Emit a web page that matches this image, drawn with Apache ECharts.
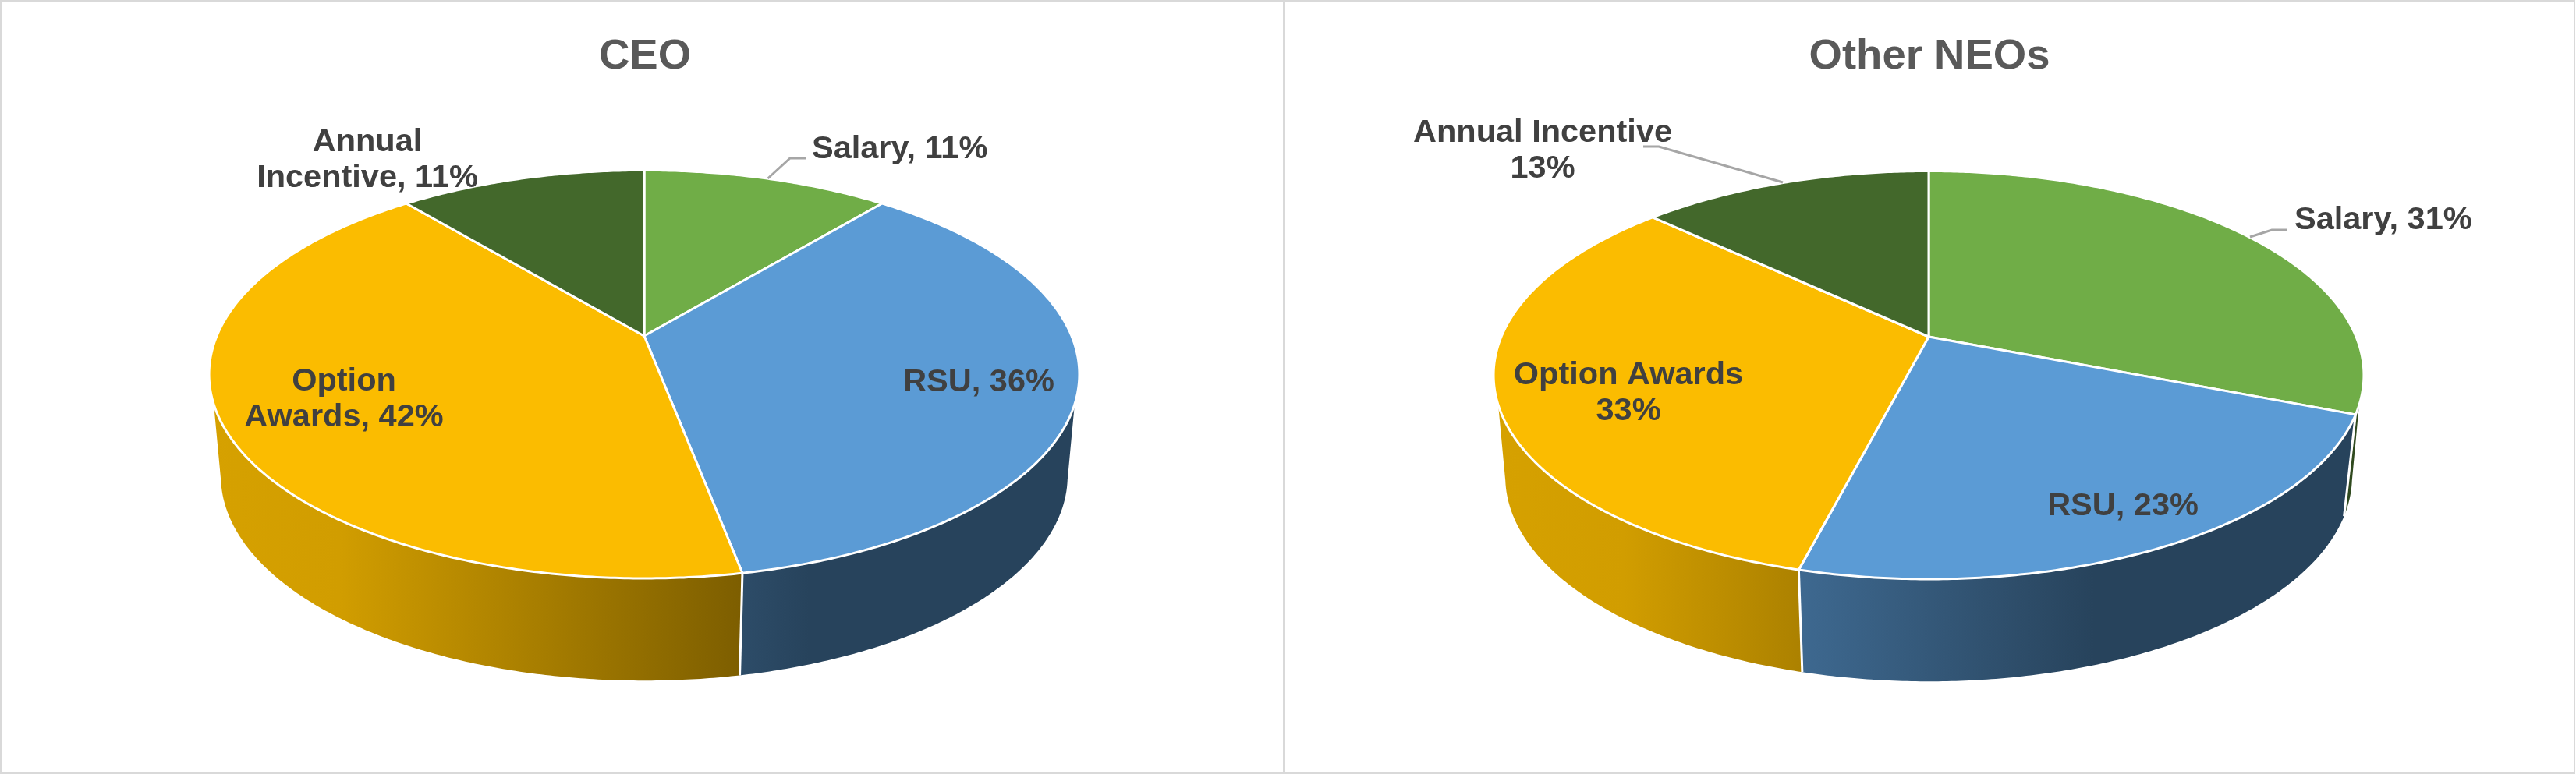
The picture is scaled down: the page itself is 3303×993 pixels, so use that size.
<!DOCTYPE html>
<html>
<head>
<meta charset="utf-8">
<style>html,body{margin:0;padding:0;background:#fff}#c{width:3303px;height:993px}</style>
<script src="https://cdn.jsdelivr.net/npm/echarts@6/dist/echarts.min.js"></script>
</head>
<body>
<div id="c"></div>
<script>
// ---- data ----
var categories = ['Salary', 'RSU', 'Option Awards', 'Annual Incentive'];
var ceoValues = [11, 36, 42, 11];
var neoValues = [31, 23, 33, 13];
var ceoLabels = ['Salary, 11%', 'RSU, 36%', 'Option\nAwards, 42%', 'Annual\nIncentive, 11%'];
var neoLabels = ['Salary, 31%', 'RSU, 23%', 'Option Awards\n33%', 'Annual Incentive\n13%'];
var titles = ['CEO', 'Other NEOs'];

// ---- styling and layout ----
var FONT = '"Liberation Sans", Arial, sans-serif';
var topColors = ['#70AD47', '#5B9BD5', '#FBBC00', '#43682B'];
var wallBases = [[112,173,71], [91,155,213], [255,192,0], [67,104,43]];
var k = 0.188, A = 548, B = 252.5, wallScaleX = 0.973, wallScaleY = 1.004, wallDrop = 130;
var topTangent = [109, 251], wallTangent = [102, 258];
var pies = [
  {cx: 826, cy: 431, titleX: 822, labels: [
    {x: 1041, y: 192, align: 'left'}, {x: 1255, y: 491, align: 'center'},
    {x: 441, y: 513, align: 'center'}, {x: 471, y: 206, align: 'center'}],
   leaders: [[[984.5,229],[1013,203],[1034,203]]]},
  {cx: 2473, cy: 432, titleX: 2469, labels: [
    {x: 2942, y: 283, align: 'left'}, {x: 2722, y: 650, align: 'center'},
    {x: 2088, y: 505, align: 'center'}, {x: 1978, y: 194, align: 'center'}],
   leaders: [[[2885,304],[2913,295],[2933,295]], [[2286,234],[2127,188],[2107,188]]]}
];

function project(p, deg, wall) {
  var a = deg * Math.PI / 180, u = Math.sin(a), v = -Math.cos(a), d = 1 - k * v;
  var X = A * u / d, Y = B * v / d;
  return wall ? [p.cx + wallScaleX * X, p.cy + wallDrop + wallScaleY * Y] : [p.cx + X, p.cy + Y];
}
function arc(p, from, to, wall) {
  var pts = [], n = Math.max(2, Math.ceil((to - from) * 2));
  for (var i = 0; i <= n; i++) pts.push(project(p, from + (to - from) * i / n, wall));
  return pts;
}
function startAngle(values, idx) {
  var s = 0;
  for (var i = 0; i < idx; i++) s += values[i];
  return s / 100 * 360;
}
function wallFill(p, base) {
  var ramp = [[0, 0.84], [0.15, 0.82], [0.612, 0.49], [0.69, 0.43], [1, 0.43]];
  return new echarts.graphic.LinearGradient(p.cx - 558, 0, p.cx + 558, 0, ramp.map(function (r) {
    return {offset: r[0], color: 'rgb(' + base.map(function (c) { return Math.round(c * r[1]); }).join(',') + ')'};
  }), true);
}
function wallSeries(values, pieIndex) {
  var p = pies[pieIndex];
  return {
    type: 'custom', coordinateSystem: 'none', z: 1, silent: true,
    data: values.map(function (v) { return [v]; }),
    renderItem: function (params, api) {
      var i = params.dataIndex, s = startAngle(values, i), e = s + api.value(0) / 100 * 360;
      var t0 = Math.max(s, topTangent[0]), t1 = Math.min(e, topTangent[1]);
      var w0 = Math.max(s, wallTangent[0]), w1 = Math.min(e, wallTangent[1]);
      if (t0 >= t1 || w0 >= w1) return {type: 'group', children: []};
      var kids = [{
        type: 'polygon',
        shape: {points: arc(p, t0, t1, false).concat(arc(p, w0, w1, true).reverse())},
        style: {fill: wallFill(p, wallBases[i])}
      }];
      if (e > topTangent[0] && e < topTangent[1]) {
        kids.push({type: 'line', z2: 5,
          shape: {x1: project(p, e, false)[0], y1: project(p, e, false)[1], x2: project(p, e, true)[0], y2: project(p, e, true)[1]},
          style: {stroke: '#fff', lineWidth: 3}});
      }
      return {type: 'group', children: kids};
    }
  };
}
function topSeries(values, pieIndex) {
  var p = pies[pieIndex];
  return {
    type: 'custom', coordinateSystem: 'none', z: 2, silent: true,
    data: values.map(function (v) { return [v]; }),
    renderItem: function (params, api) {
      var i = params.dataIndex, s = startAngle(values, i), e = s + api.value(0) / 100 * 360;
      return {
        type: 'polygon',
        shape: {points: [[p.cx, p.cy]].concat(arc(p, s, e, false))},
        style: {fill: topColors[i], stroke: '#fff', lineWidth: 3, lineJoin: 'round'}
      };
    }
  };
}
function labelSeries(labels, pieIndex) {
  var p = pies[pieIndex];
  return {
    type: 'custom', coordinateSystem: 'none', z: 3, silent: true,
    data: labels.map(function (t) { return [t]; }),
    renderItem: function (params) {
      var i = params.dataIndex, pos = p.labels[i], kids = [];
      if (i === 0) p.leaders.forEach(function (pts) {
        kids.push({type: 'polyline', shape: {points: pts}, style: {fill: 'none', stroke: '#A6A6A6', lineWidth: 3}});
      });
      kids.push({
        type: 'text',
        style: {text: labels[i], x: pos.x, y: pos.y, textAlign: pos.align, textVerticalAlign: 'middle',
          fontSize: 41.5, fontWeight: 'bold', fontFamily: FONT, fill: '#404040', lineHeight: 46}
      });
      return {type: 'group', children: kids};
    }
  };
}

var chart = echarts.init(document.getElementById('c'), null, {renderer: 'canvas'});
chart.setOption({
  animation: false,
  backgroundColor: '#fff',
  title: titles.map(function (t, i) {
    return {text: t, left: pies[i].titleX, top: 40, textAlign: 'center',
      textStyle: {fontSize: 54.5, fontWeight: 'bold', color: '#595959', fontFamily: FONT}};
  }),
  graphic: [
    {type: 'rect', shape: {x: 0, y: 0, width: 3301, height: 3}, style: {fill: '#D9D9D9'}},
    {type: 'rect', shape: {x: 0, y: 990, width: 3301, height: 3}, style: {fill: '#D9D9D9'}},
    {type: 'rect', shape: {x: 0, y: 0, width: 2, height: 993}, style: {fill: '#D9D9D9'}},
    {type: 'rect', shape: {x: 1645, y: 0, width: 3, height: 993}, style: {fill: '#D9D9D9'}},
    {type: 'rect', shape: {x: 3300, y: 0, width: 2, height: 993}, style: {fill: '#D9D9D9'}}
  ],
  series: [
    wallSeries(ceoValues, 0), topSeries(ceoValues, 0), labelSeries(ceoLabels, 0),
    wallSeries(neoValues, 1), topSeries(neoValues, 1), labelSeries(neoLabels, 1)
  ]
});
</script>
</body>
</html>
